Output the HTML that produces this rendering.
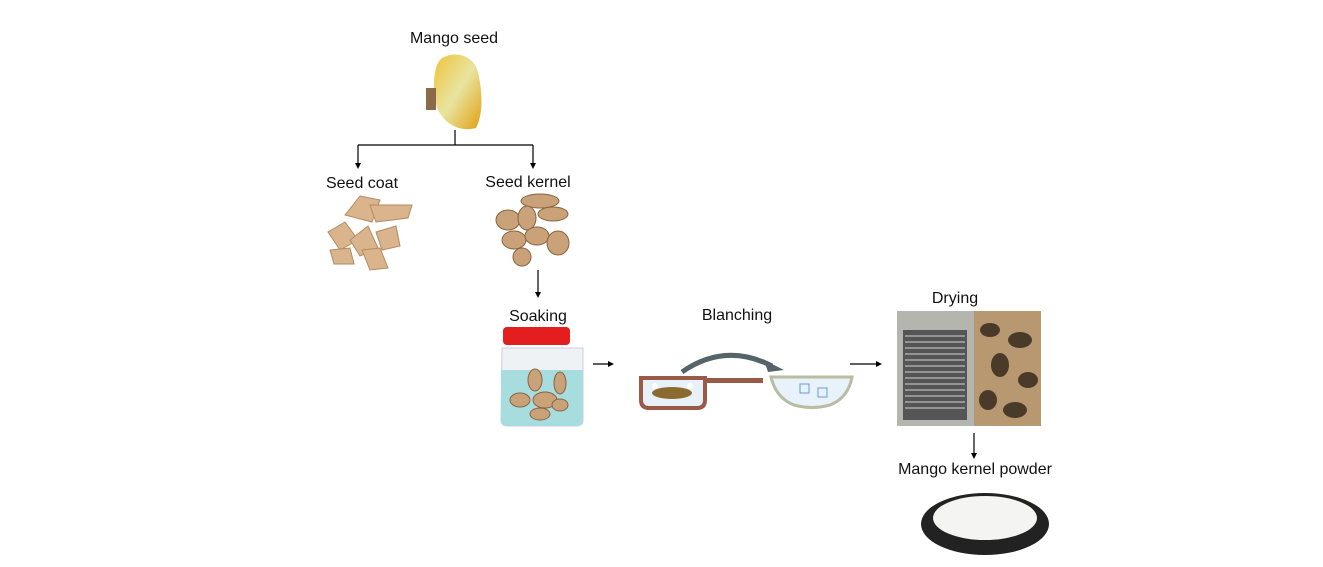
<!DOCTYPE html>
<html><head><style>
html,body{margin:0;padding:0;background:#fff;}
svg{display:block;font-family:"Liberation Sans",sans-serif;}
</style></head><body>
<svg width="1323" height="567" viewBox="0 0 1323 567" xmlns="http://www.w3.org/2000/svg">
<defs>
<marker id="ah" markerWidth="6" markerHeight="6" refX="3" refY="3" orient="auto" markerUnits="userSpaceOnUse"><path d="M0,0 L6,3 L0,6 Z" fill="#000"/></marker>
<linearGradient id="ms" x1="0" y1="0" x2="1" y2="1"><stop offset="0" stop-color="#f0c23a"/><stop offset="0.5" stop-color="#e8e4a0"/><stop offset="1" stop-color="#e0a010"/></linearGradient>
</defs>
<g font-size="16" fill="#111" text-anchor="middle">
<text x="454" y="43">Mango seed</text>
<text x="362" y="188">Seed coat</text>
<text x="528" y="187">Seed kernel</text>
<text x="538" y="321">Soaking</text>
<text x="737" y="320">Blanching</text>
<text x="955" y="303">Drying</text>
<text x="975" y="474">Mango kernel powder</text>
</g>
<!-- mango seed -->
<path d="M442,58 C456,50 474,56 478,72 C482,90 484,112 476,128 C462,132 446,126 438,110 C432,94 432,66 442,58 Z" fill="url(#ms)"/>
<rect x="426" y="88" width="10" height="22" fill="#8a6a4a"/>
<!-- connectors -->
<g stroke="#000" stroke-width="1.2" fill="none">
<path d="M455,130 V145 M358,145 H533"/>
<path d="M358,145 V166" marker-end="url(#ah)"/>
<path d="M533,145 V166" marker-end="url(#ah)"/>
<path d="M538,270 V295" marker-end="url(#ah)"/>
<path d="M593,364 H611" marker-end="url(#ah)"/>
<path d="M850,364 H879" marker-end="url(#ah)"/>
<path d="M974,433 V456" marker-end="url(#ah)"/>
</g>
<!-- seed coat -->
<g fill="#d9b48c" stroke="#b58a60" stroke-width="1">
<path d="M345,215 L360,196 L380,200 L372,222 Z"/>
<path d="M370,205 L412,205 L408,218 L376,222 Z"/>
<path d="M328,232 L345,222 L358,240 L340,250 Z"/>
<path d="M350,240 L368,226 L378,248 L360,256 Z"/>
<path d="M376,232 L396,226 L400,246 L382,250 Z"/>
<path d="M330,250 L350,248 L354,264 L334,264 Z"/>
<path d="M362,250 L380,248 L388,268 L370,270 Z"/>
</g>
<!-- kernels -->
<g fill="#c9a27a" stroke="#8a6440" stroke-width="1">
<ellipse cx="540" cy="201" rx="19" ry="7"/>
<ellipse cx="508" cy="220" rx="12" ry="10"/>
<ellipse cx="527" cy="218" rx="9" ry="12"/>
<ellipse cx="553" cy="214" rx="15" ry="7"/>
<ellipse cx="514" cy="240" rx="12" ry="9"/>
<ellipse cx="537" cy="236" rx="12" ry="9"/>
<ellipse cx="558" cy="243" rx="11" ry="12"/>
<ellipse cx="522" cy="257" rx="9" ry="9"/>
</g>
<!-- jar -->
<rect x="503" y="327" width="67" height="18" rx="4" fill="#e41e1e"/>
<path d="M502,348 H583 V420 Q583,426 576,426 H508 Q501,426 501,420 Z" fill="#eef2f5" stroke="#ccd" stroke-width="1"/>
<path d="M501,370 H583 V420 Q583,426 576,426 H508 Q501,426 501,420 Z" fill="#a8dde0"/>
<g fill="#c9a27a" stroke="#8a6440"><ellipse cx="535" cy="380" rx="7" ry="11"/><ellipse cx="560" cy="383" rx="6" ry="11"/><ellipse cx="520" cy="400" rx="10" ry="7"/><ellipse cx="545" cy="400" rx="12" ry="8"/><ellipse cx="560" cy="405" rx="8" ry="6"/><ellipse cx="540" cy="414" rx="10" ry="6"/></g>
<!-- pan -->
<path d="M641,378 H705 V400 Q705,408 697,408 H649 Q641,408 641,400 Z" fill="#e8f0f8" stroke="#9a5a48" stroke-width="4"/>
<rect x="705" y="378" width="58" height="5" fill="#9a5a48"/>
<ellipse cx="672" cy="393" rx="20" ry="6" fill="#8a6a30"/>
<circle cx="655" cy="386" r="3" fill="#fff"/><circle cx="690" cy="386" r="3" fill="#fff"/>
<!-- curved arrow -->
<path d="M682,372 Q725,342 772,366" fill="none" stroke="#55636a" stroke-width="5"/>
<path d="M764,360 L784,370 L768,372 Z" fill="#55636a"/>
<!-- bowl -->
<path d="M771,377 H852 Q848,398 830,405 Q812,410 794,405 Q776,398 771,377 Z" fill="#e8f2fb" stroke="#b8bca0" stroke-width="3"/>
<rect x="800" y="384" width="9" height="9" fill="none" stroke="#6a9ad0"/><rect x="818" y="388" width="9" height="9" fill="none" stroke="#6a9ad0"/>
<!-- dryer -->
<rect x="897" y="311" width="77" height="115" fill="#b5b5b0"/>
<rect x="903" y="330" width="64" height="90" fill="#555"/>
<g stroke="#aaa" stroke-width="1.5"><path d="M905,336H965M905,342H965M905,348H965M905,354H965M905,360H965M905,366H965M905,372H965M905,378H965M905,384H965M905,390H965M905,396H965M905,402H965M905,408H965"/></g>
<rect x="974" y="311" width="67" height="115" fill="#b89870"/>
<g fill="#4a3a2a"><ellipse cx="990" cy="330" rx="10" ry="7"/><ellipse cx="1020" cy="340" rx="12" ry="8"/><ellipse cx="1000" cy="365" rx="9" ry="12"/><ellipse cx="1028" cy="380" rx="10" ry="8"/><ellipse cx="988" cy="400" rx="9" ry="10"/><ellipse cx="1015" cy="410" rx="12" ry="8"/></g>
<!-- plate -->
<ellipse cx="985" cy="524" rx="64" ry="31" fill="#222"/>
<ellipse cx="985" cy="518" rx="52" ry="22" fill="#f4f4f2"/>
</svg>
</body></html>
